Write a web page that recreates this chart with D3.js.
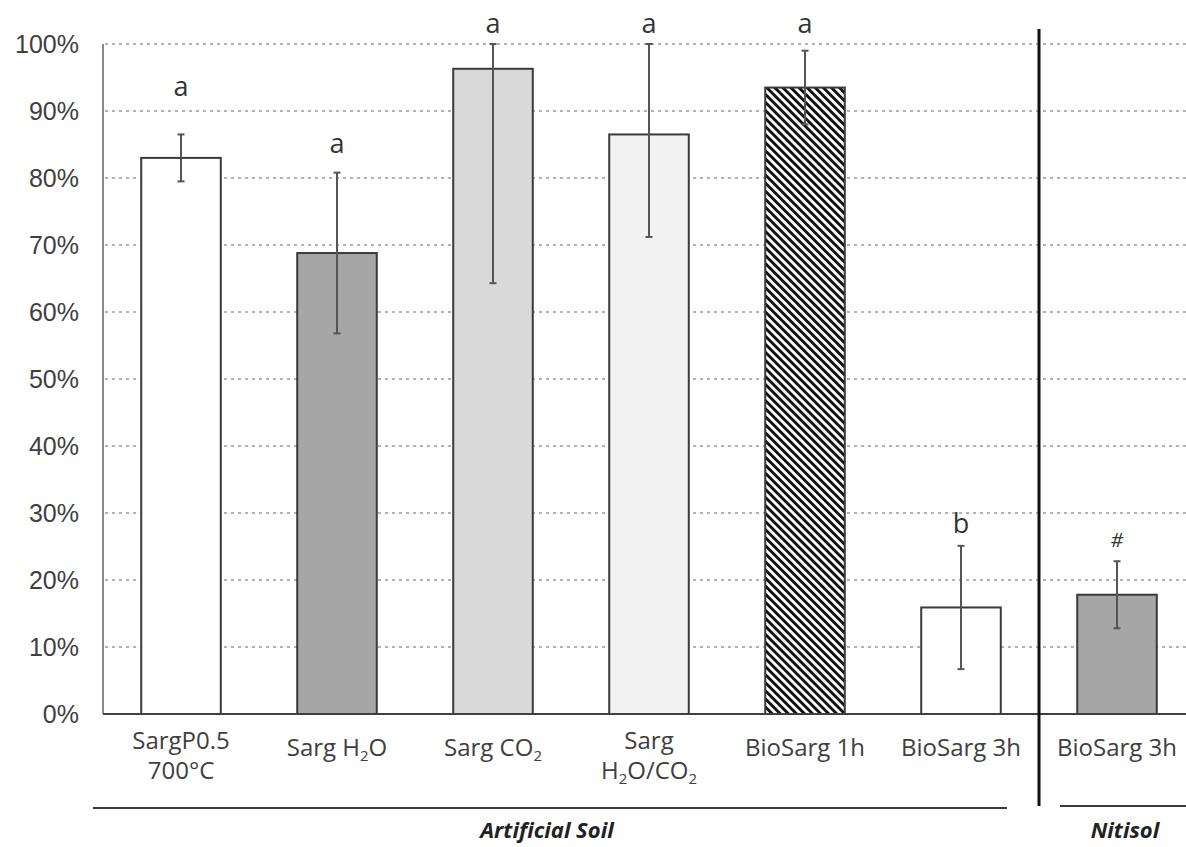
<!DOCTYPE html>
<html>
<head>
<meta charset="utf-8">
<script src="https://cdn.jsdelivr.net/npm/d3@7"></script>
<style>
  body { margin: 0; background: #fff; }
  svg { display: block; }
</style>
</head>
<body>
<svg id="chart" width="1186" height="847" viewBox="0 0 1186 847"></svg>
<script>
// data (percent)
const labels = ["SargP0.5\n700°C", "Sarg H_2O", "Sarg CO_2", "Sarg\nH_2O/CO_2", "BioSarg 1h", "BioSarg 3h", "BioSarg 3h"]
const values = [83.0, 68.8, 96.3, 86.5, 93.5, 15.9, 17.8]
const errors = [3.5, 12.0, 32.0, 15.3, 5.5, 9.2, 5.0]
const letters = ["a", "a", "a", "a", "a", "b", "#"]
const letterAt = [92.2, 83.7, 101.6, 101.6, 101.6, 27.0, 24.9]
const fills = ["#ffffff", "#a6a6a6", "#d9d9d9", "#f2f2f2", "url(#hatch)", "#ffffff", "#a6a6a6"]
const yTicks = [0, 10, 20, 30, 40, 50, 60, 70, 80, 90, 100]
const groups = [
  {name: "Artificial Soil", first: 0, last: 5},
  {name: "Nitisol", first: 6, last: 6}
]

const svg = d3.select("#chart")
const width = 1186

const defs = svg.append("defs")
const pat = defs.append("pattern")
  .attr("id", "hatch")
  .attr("patternUnits", "userSpaceOnUse")
  .attr("width", 5.7).attr("height", 5.7)
  .attr("patternTransform", "rotate(-45)")
pat.append("rect").attr("width", 5.7).attr("height", 5.7).attr("fill", "#fff")
pat.append("rect").attr("width", 2.9).attr("height", 5.7).attr("fill", "#111")

const y = d3.scaleLinear().domain([0, 100]).range([714, 44])
const x = d3.scaleBand()
  .domain(d3.range(values.length))
  .range([103, 1195])
  .paddingInner(0.49)
  .paddingOuter(0.245)

// gridlines
svg.append("g")
  .selectAll("line")
  .data(yTicks.filter(d => d > 0))
  .enter()
  .append("line")
  .attr("x1", 105).attr("x2", width)
  .attr("y1", d => y(d)).attr("y2", d => y(d))
  .attr("stroke", "#b3b3b3")
  .attr("stroke-width", 2)
  .attr("stroke-dasharray", "3,4")

// y tick labels
svg.append("g")
  .selectAll("text")
  .data(yTicks)
  .enter()
  .append("text")
  .attr("x", 79)
  .attr("y", d => y(d))
  .attr("dy", "0.36em")
  .attr("text-anchor", "end")
  .attr("font-family", "Liberation Sans, Arial, sans-serif")
  .attr("font-size", 25)
  .attr("fill", "#404040")
  .text(d => d + "%")

// bars
svg.append("g")
  .selectAll("rect")
  .data(values)
  .enter()
  .append("rect")
  .attr("x", (d, i) => x(i))
  .attr("width", x.bandwidth())
  .attr("y", d => y(d))
  .attr("height", d => y(0) - y(d))
  .attr("fill", (d, i) => fills[i])
  .attr("stroke", "#3a3a3a")
  .attr("stroke-width", 2)

// error bars (clipped at 100%)
const errTop = (d, i) => y(Math.min(100, d + errors[i]))
const errBot = (d, i) => y(d - errors[i])
const cx = i => x(i) + x.bandwidth() / 2
const eb = svg.append("g")
  .selectAll("g")
  .data(values)
  .enter()
  .append("g")
  .attr("stroke", "#555")
  .attr("stroke-width", 2)
eb.append("line")
  .attr("x1", (d, i) => cx(i)).attr("x2", (d, i) => cx(i))
  .attr("y1", errTop).attr("y2", errBot)
eb.append("line")
  .attr("x1", (d, i) => cx(i) - 3.5).attr("x2", (d, i) => cx(i) + 3.5)
  .attr("y1", errTop).attr("y2", errTop)
eb.append("line")
  .attr("x1", (d, i) => cx(i) - 3.5).attr("x2", (d, i) => cx(i) + 3.5)
  .attr("y1", errBot).attr("y2", errBot)

// significance letters
svg.append("g")
  .selectAll("text")
  .data(letters)
  .enter()
  .append("text")
  .attr("x", (d, i) => cx(i))
  .attr("y", (d, i) => y(letterAt[i]))
  .attr("text-anchor", "middle")
  .attr("font-family", "Open Sans, sans-serif")
  .attr("font-size", d => d == "#" ? 20 : 27)
  .attr("font-style", d => d == "#" ? "italic" : "normal")
  .attr("fill", "#333")
  .text(d => d)

// axes lines
svg.append("line")
  .attr("x1", 103).attr("x2", 103)
  .attr("y1", y(100)).attr("y2", y(0))
  .attr("stroke", "#8a8a8a").attr("stroke-width", 2)
svg.append("line")
  .attr("x1", 103).attr("x2", width)
  .attr("y1", y(0)).attr("y2", y(0))
  .attr("stroke", "#404040").attr("stroke-width", 2)

// category labels, "_2" means subscript 2
svg.append("g")
  .selectAll("text")
  .data(labels)
  .enter()
  .append("text")
  .attr("text-anchor", "middle")
  .attr("font-family", "Open Sans, sans-serif")
  .attr("font-size", 24)
  .attr("fill", "#404040")
  .each(function(d, i) {
    const lines = d.split("\n")
    const t = d3.select(this)
    lines.forEach((ln, k) => {
      const base = lines.length == 1 ? 756 : 749 + k * 30
      const line = t.append("tspan").attr("x", cx(i)).attr("y", base)
      let shift = 0
      ln.split(/(_\d)/).filter(s => s.length).forEach(seg => {
        if (seg[0] == "_") {
          line.append("tspan").attr("font-size", 15).attr("dy", 5).text(seg[1])
          shift = -5
        } else {
          line.append("tspan").attr("dy", shift).text(seg)
          shift = 0
        }
      })
    })
  })

// group separators
const sepX = (x(5) + x(6) + x.bandwidth()) / 2
svg.append("line")
  .attr("x1", sepX).attr("x2", sepX)
  .attr("y1", 29).attr("y2", 806)
  .attr("stroke", "#111").attr("stroke-width", 3)

svg.append("line")
  .attr("x1", 93).attr("x2", 1007)
  .attr("y1", 808).attr("y2", 808)
  .attr("stroke", "#3a3a3a").attr("stroke-width", 2)
svg.append("line")
  .attr("x1", 1060).attr("x2", width)
  .attr("y1", 806).attr("y2", 806)
  .attr("stroke", "#3a3a3a").attr("stroke-width", 2)

svg.append("g")
  .selectAll("text")
  .data(groups)
  .enter()
  .append("text")
  .attr("x", d => d.name == "Nitisol" ? 1125 : 547)
  .attr("y", 838)
  .attr("text-anchor", "middle")
  .attr("font-family", "Open Sans, sans-serif")
  .attr("font-size", 22)
  .attr("font-weight", "bold")
  .attr("font-style", "italic")
  .attr("fill", "#222")
  .text(d => d.name)
</script>
</body>
</html>
